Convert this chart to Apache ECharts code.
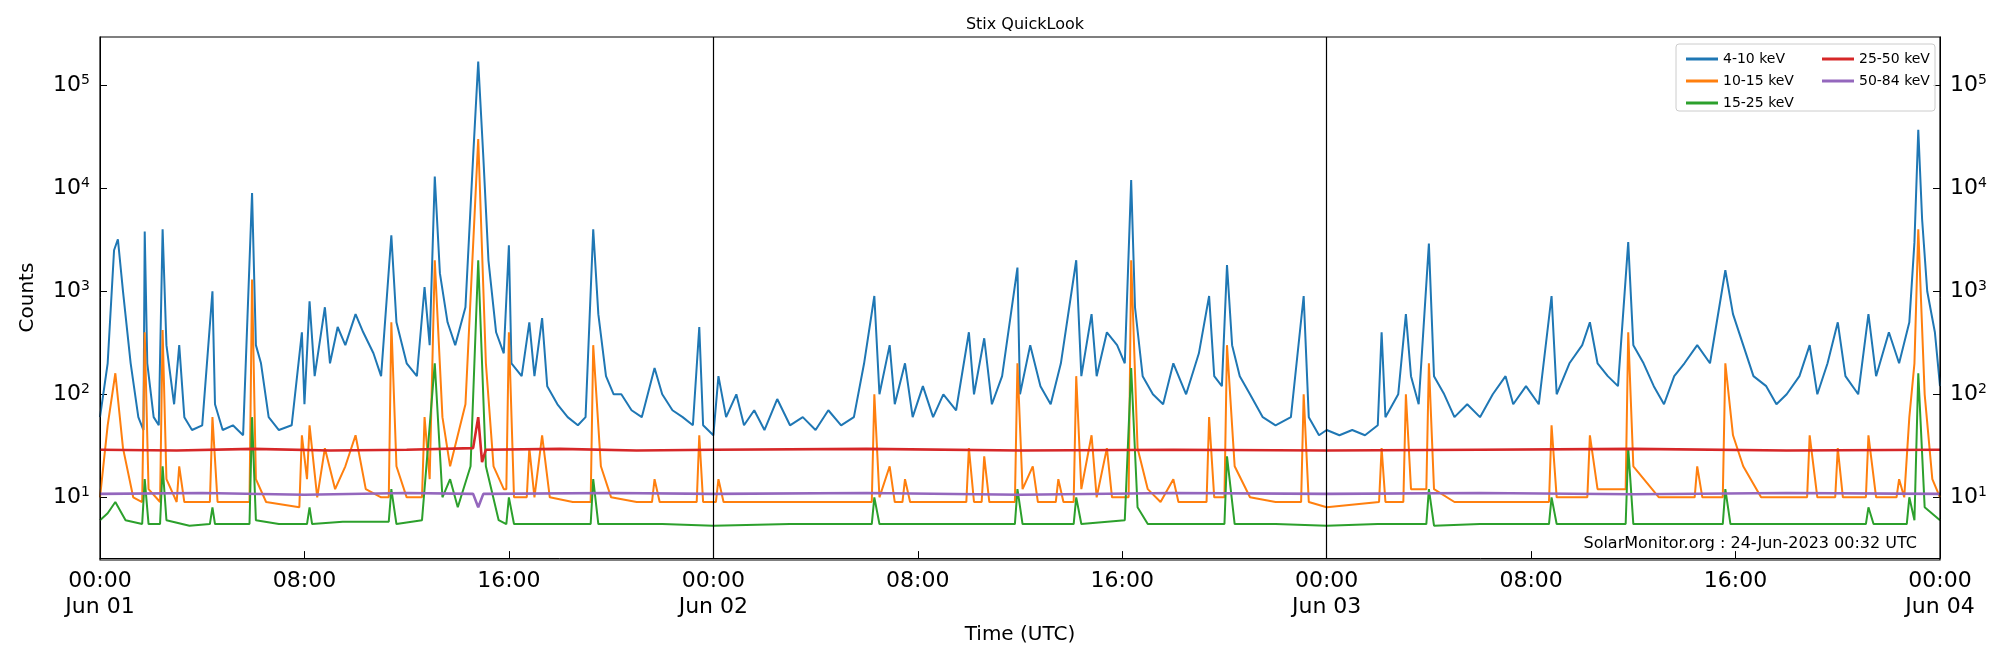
<!DOCTYPE html>
<html>
<head>
<meta charset="utf-8">
<script src="https://cdn.jsdelivr.net/npm/echarts@6/dist/echarts.min.js"></script>
<style>html,body{margin:0;padding:0;background:#fff}#chart{width:2000px;height:650px}</style>
</head>
<body>
<div id="chart"></div>
<script>
// hours since Jun 01 00:00 UTC, counts
var names = ['4-10 keV', '10-15 keV', '15-25 keV', '25-50 keV', '50-84 keV'];
var colors = ['#1f77b4', '#ff7f0e', '#2ca02c', '#d62728', '#9467bd'];
var dayLabels = ['Jun 01', 'Jun 02', 'Jun 03', 'Jun 04'];

var band1 = [[0,60],[0.3,200],[0.55,2500],[0.7,3200],[0.9,1000],[1.2,200],[1.5,60],[1.7,45],[1.75,3800],[1.85,200],[2.1,60],[2.3,50],[2.45,4000],[2.6,300],[2.9,80],[3.1,300],[3.3,60],[3.6,45],[4.0,50],[4.4,1000],[4.5,80],[4.8,45],[5.2,50],[5.6,40],[5.95,9000],[6.1,300],[6.3,200],[6.6,60],[7.0,45],[7.5,50],[7.9,400],[8.0,80],[8.2,800],[8.4,150],[8.8,700],[9.0,200],[9.3,450],[9.6,300],[10.0,600],[10.3,400],[10.7,250],[11.0,150],[11.4,3500],[11.6,500],[12.0,200],[12.4,150],[12.7,1100],[12.9,300],[13.1,13000],[13.3,1500],[13.6,500],[13.9,300],[14.3,700],[14.6,20000],[14.8,170000],[15.0,20000],[15.2,2000],[15.5,400],[15.8,250],[16.0,2800],[16.1,200],[16.5,150],[16.8,500],[17.0,150],[17.3,550],[17.5,120],[17.9,80],[18.3,60],[18.7,50],[19.0,60],[19.3,4000],[19.5,600],[19.8,150],[20.1,100],[20.4,100],[20.8,70],[21.2,60],[21.7,180],[22.0,100],[22.4,70],[22.8,60],[23.2,50],[23.45,450],[23.6,50],[24.0,40],
[24.2,150],[24.5,60],[24.9,100],[25.2,50],[25.6,70],[26.0,45],[26.5,90],[27.0,50],[27.5,60],[28.0,45],[28.5,70],[29.0,50],[29.5,60],[29.9,200],[30.3,900],[30.5,100],[30.9,300],[31.1,80],[31.5,200],[31.8,60],[32.2,120],[32.6,60],[33.0,100],[33.5,70],[34.0,400],[34.2,100],[34.6,350],[34.9,80],[35.3,150],[35.9,1700],[36.0,100],[36.4,300],[36.8,120],[37.2,80],[37.6,200],[38.2,2000],[38.4,150],[38.8,600],[39.0,150],[39.4,400],[39.8,300],[40.1,200],[40.35,12000],[40.5,700],[40.8,150],[41.2,100],[41.6,80],[42.0,200],[42.5,100],[43.0,250],[43.4,900],[43.6,150],[43.9,120],[44.1,1800],[44.3,300],[44.6,150],[45.0,100],[45.5,60],[46.0,50],[46.6,60],[47.1,900],[47.3,60],[47.7,40],[48.0,45],
[48.5,40],[49.0,45],[49.5,40],[50.0,50],[50.15,400],[50.3,60],[50.8,100],[51.1,600],[51.3,150],[51.6,80],[52.0,2900],[52.2,150],[52.6,100],[53.0,60],[53.5,80],[54.0,60],[54.5,100],[55.0,150],[55.3,80],[55.8,120],[56.3,80],[56.8,900],[57.0,100],[57.5,200],[58.0,300],[58.3,500],[58.6,200],[59.0,150],[59.4,120],[59.8,3000],[60.0,300],[60.4,200],[60.8,120],[61.2,80],[61.6,150],[62.0,200],[62.5,300],[63.0,200],[63.6,1600],[63.9,600],[64.3,300],[64.7,150],[65.2,120],[65.6,80],[66.0,100],[66.5,150],[66.9,300],[67.2,100],[67.6,200],[68.0,500],[68.3,150],[68.8,100],[69.2,600],[69.5,150],[70.0,400],[70.4,200],[70.8,500],[71.0,3000],[71.15,37000],[71.3,5000],[71.5,1000],[71.8,400],[72.0,120]];

var band2 = [[0,10],[0.3,50],[0.6,160],[0.9,30],[1.3,10],[1.65,9],[1.75,400],[1.9,12],[2.35,9],[2.45,420],[2.6,15],[3.0,9],[3.1,20],[3.3,9],[4.3,9],[4.4,60],[4.6,9],[5.85,9],[5.95,1300],[6.1,15],[6.5,9],[7.8,8],[7.9,40],[8.1,15],[8.2,50],[8.5,10],[8.8,30],[9.2,12],[9.6,20],[10.0,40],[10.4,12],[11.0,10],[11.3,10],[11.4,500],[11.6,20],[12.0,10],[12.6,10],[12.7,60],[12.9,15],[13.1,2000],[13.4,60],[13.7,20],[14.0,40],[14.3,80],[14.8,30000],[15.1,200],[15.4,20],[15.8,12],[15.9,12],[16.0,400],[16.2,10],[16.7,10],[16.8,30],[17.0,10],[17.3,40],[17.6,10],[18.5,9],[19.2,9],[19.3,300],[19.6,20],[20.0,10],[21.0,9],[21.6,9],[21.7,15],[21.9,9],[23.35,9],[23.45,40],[23.6,9],[24.0,9],
[24.1,9],[24.2,15],[24.4,9],[26.0,9],[28,9],[30.2,9],[30.3,100],[30.5,10],[30.9,20],[31.1,9],[31.4,9],[31.5,15],[31.7,9],[33.9,9],[34.0,30],[34.2,9],[34.5,9],[34.6,25],[34.8,9],[35.8,9],[35.9,200],[36.1,12],[36.5,20],[36.7,9],[37.4,9],[37.5,15],[37.7,9],[38.1,9],[38.2,150],[38.4,12],[38.8,40],[39.0,10],[39.4,30],[39.6,10],[40.25,10],[40.35,2000],[40.6,30],[41.0,12],[41.5,9],[42.0,15],[42.2,9],[43.3,9],[43.4,60],[43.6,10],[44.0,10],[44.1,300],[44.4,20],[45.0,10],[46.0,9],[47.0,9],[47.1,100],[47.3,9],[48.0,8],
[50.05,9],[50.15,30],[50.3,9],[51.0,9],[51.1,100],[51.3,12],[51.9,12],[52.0,200],[52.2,12],[53.0,9],[56.7,9],[56.8,50],[57.0,10],[58.2,10],[58.3,40],[58.6,12],[59.7,12],[59.8,400],[60.0,20],[61.0,10],[62.4,10],[62.5,20],[62.7,10],[63.5,10],[63.6,200],[63.9,40],[64.3,20],[65.0,10],[66.8,10],[66.9,40],[67.2,10],[67.9,10],[68.0,30],[68.2,10],[69.1,10],[69.2,40],[69.5,10],[70.3,10],[70.4,15],[70.6,10],[70.8,60],[71.0,200],[71.15,4000],[71.4,100],[71.7,15],[72.0,10]];

var band3 = [[0,6],[0.3,7],[0.6,9],[1.0,6],[1.65,5.5],[1.75,15],[1.9,5.5],[2.35,5.5],[2.45,20],[2.6,6],[3.5,5.3],[4.3,5.5],[4.4,8],[4.5,5.5],[5.85,5.5],[5.95,60],[6.1,6],[7,5.5],[8.1,5.5],[8.2,8],[8.3,5.5],[9.5,5.8],[11.3,5.8],[11.4,12],[11.6,5.5],[12.6,6],[13.1,200],[13.4,10],[13.7,15],[14.0,8],[14.5,20],[14.8,2000],[15.1,20],[15.6,6],[15.9,5.5],[16.0,10],[16.2,5.5],[18,5.5],[19.2,5.5],[19.3,15],[19.5,5.5],[22,5.5],[24,5.3],[27,5.5],[30.2,5.5],[30.3,10],[30.5,5.5],[33,5.5],[35.8,5.5],[35.9,12],[36.1,5.5],[38.1,5.5],[38.2,10],[38.4,5.5],[40.1,6],[40.35,180],[40.6,8],[41,5.5],[44.0,5.5],[44.1,25],[44.4,5.5],[46,5.5],[48,5.3],[50,5.5],[51.9,5.5],[52.0,12],[52.2,5.3],[54,5.5],[56.7,5.5],[56.8,10],[57,5.5],[59.7,5.5],[59.8,30],[60,5.5],[63.5,5.5],[63.6,12],[63.8,5.5],[66,5.5],[69.1,5.5],[69.2,8],[69.4,5.5],[70.7,5.5],[70.8,10],[71.0,6],[71.15,160],[71.4,8],[72,6]];

var band4 = [[0,29],[3,28.5],[6,29.5],[9,28.5],[12,29],[14.6,30],[14.8,60],[14.95,22],[15.1,29],[18,29.5],[21,28.5],[24,29],[30,29.5],[36,28.5],[42,29],[48,28.5],[54,29],[60,29.5],[66,28.5],[72,29]];

var band5 = [[0,10.8],[4,11],[8,10.6],[12,11],[14.6,10.8],[14.8,8],[15.0,10.8],[20,11],[24,10.8],[30,11],[36,10.6],[42,11],[48,10.8],[54,11],[60,10.7],[66,11],[72,10.8]];

var bands = [band1, band2, band3, band4, band5];
var widths = [2, 2, 2, 2.6, 2.6];

var chart = echarts.init(document.getElementById('chart'));
var FONT = 'DejaVu Sans';
function yAxisDef(pos) {
  return {
    type: 'log', position: pos, min: 2.57, max: 294000,
    axisLine: {show: true, onZero: false, lineStyle: {color: '#000'}},
    axisTick: {show: true, inside: true, length: 7, lineStyle: {color: '#000'}},
    splitLine: {show: false},
    axisLabel: {
      showMinLabel: false, showMaxLabel: false, margin: 10,
      formatter: function (v) { return '10{s|' + Math.round(Math.log10(v)) + '}'; },
      fontFamily: FONT, fontSize: 22, color: '#000',
      rich: {s: {fontSize: 14, verticalAlign: 'top', padding: [0, 0, 10, 0], fontFamily: FONT}}
    }
  };
}
var series = bands.map(function (d, i) {
  return {name: names[i], type: 'line', data: d, yAxisIndex: 0, showSymbol: false,
    lineStyle: {color: colors[i], width: widths[i]}, itemStyle: {color: colors[i]}};
});
series[0].markLine = {symbol: 'none', silent: true, label: {show: false},
  lineStyle: {color: '#000', type: 'solid', width: 1.2}, data: [{xAxis: 24}, {xAxis: 48}]};

chart.setOption({
  animation: false,
  title: {text: 'Stix QuickLook', left: 1020, top: 12, textAlign: 'center',
    textStyle: {fontFamily: FONT, fontSize: 16, fontWeight: 'normal', color: '#000'}},
  grid: {left: 100, right: 60, top: 37, bottom: 90},
  legend: [
    {data: names.slice(0, 3), orient: 'vertical', left: 1681, top: 47, itemWidth: 32, itemHeight: 3, itemGap: 8, z: 20,
      icon: 'rect', textStyle: {fontFamily: FONT, fontSize: 14, color: '#000'}},
    {data: names.slice(3), orient: 'vertical', left: 1817, top: 47, itemWidth: 32, itemHeight: 3, itemGap: 8, z: 20,
      icon: 'rect', textStyle: {fontFamily: FONT, fontSize: 14, color: '#000'}}
  ],
  xAxis: {
    type: 'value', min: 0, max: 72, interval: 8, name: 'Time (UTC)', nameLocation: 'middle', nameGap: 60,
    nameTextStyle: {fontFamily: FONT, fontSize: 20, color: '#000'},
    axisLine: {onZero: false, lineStyle: {color: '#000'}},
    axisTick: {inside: true, length: 7, lineStyle: {color: '#000'}},
    splitLine: {show: false},
    axisLabel: {fontFamily: FONT, fontSize: 22, color: '#000', margin: 10, lineHeight: 26,
      formatter: function (h) {
        var hh = h % 24;
        return hh === 0 ? '00:00\n' + dayLabels[h / 24] : (hh < 10 ? '0' : '') + hh + ':00';
      }}
  },
  yAxis: [
    Object.assign(yAxisDef('left'), {name: 'Counts', nameLocation: 'middle', nameGap: 62,
      nameTextStyle: {fontFamily: FONT, fontSize: 20, color: '#000'}}),
    yAxisDef('right')
  ],
  graphic: [
    {type: 'rect', shape: {x: 1676, y: 44, width: 259, height: 67, r: 3}, style: {fill: 'rgba(255,255,255,0.85)', stroke: '#ccc', lineWidth: 1}, z: 3},
    {type: 'rect', shape: {x: 100, y: 37, width: 1840, height: 523}, style: {fill: 'none', stroke: '#000', lineWidth: 1.2}, z: 10, silent: true},
    {type: 'text', right: 83, top: 536, style: {text: 'SolarMonitor.org : 24-Jun-2023 00:32 UTC', fontFamily: FONT, fontSize: 16, fill: '#000'}}
  ],
  series: series
});
</script>
</body>
</html>
